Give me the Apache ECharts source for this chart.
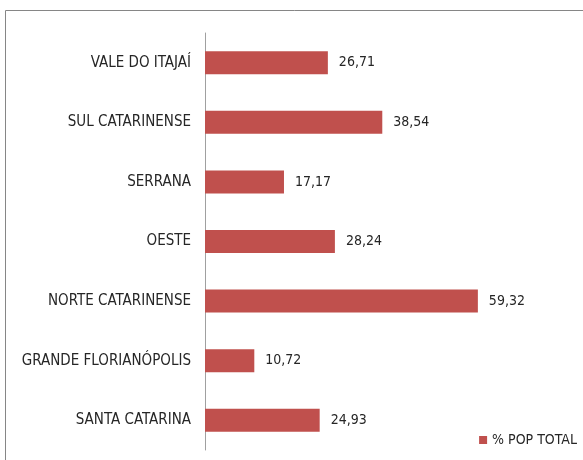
<!DOCTYPE html>
<html><head><meta charset="utf-8">
<script src="https://cdn.jsdelivr.net/npm/echarts@6/dist/echarts.min.js"></script>
<style>html,body{margin:0;padding:0;background:#fff}#c{width:583px;height:460px}</style>
</head><body><div id="c"></div>
<script>
const categories = ["SANTA CATARINA","GRANDE FLORIANÓPOLIS","NORTE CATARINENSE","OESTE","SERRANA","SUL CATARINENSE","VALE DO ITAJAÍ"];
const values = [24.93,10.72,59.32,28.24,17.17,38.54,26.71];
const seriesName = "% POP TOTAL";
const FONT = "'Liberation Sans Narrow','DejaVu Sans Condensed',sans-serif";
const chart = echarts.init(document.getElementById('c'), null, {renderer:'canvas'});
chart.setOption({
  animation:false,
  graphic:[{type:'rect',shape:{x:5.5,y:10.5,width:700,height:600},style:{fill:'none',stroke:'#868686',lineWidth:1}}],
  grid:{left:205,right:56,top:33,bottom:10,containLabel:false},
  xAxis:{type:'value',min:0,max:70,show:false},
  yAxis:{type:'category',data:categories,
    axisLine:{lineStyle:{color:'#a0a0a0'}},axisTick:{show:false},
    axisLabel:{color:'#262626',fontFamily:FONT,fontSize:15,margin:14}},
  legend:{right:1,bottom:8,itemWidth:8,itemHeight:8,itemGap:4,icon:'rect',
    textStyle:{color:'#262626',fontFamily:FONT,fontSize:14},data:[seriesName]},
  series:[{type:'bar',name:seriesName,data:values,barWidth:23,
    itemStyle:{color:'#C0504D'},
    label:{show:true,position:'right',distance:11,color:'#262626',fontFamily:FONT,fontSize:14,
      formatter:p=>p.value.toFixed(2).replace('.',',')}}]
});
</script></body></html>
